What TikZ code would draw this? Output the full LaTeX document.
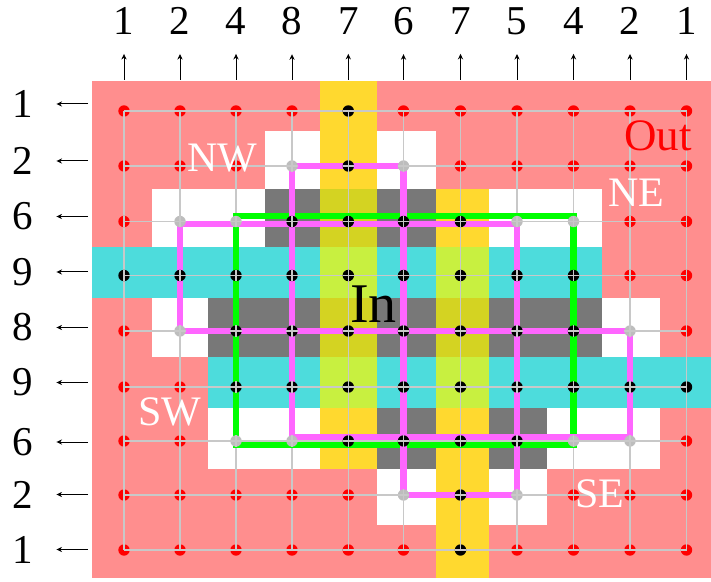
\documentclass[tikz,border=0pt]{standalone}
\usepackage{fontspec}
\setmainfont{Liberation Serif}
\definecolor{cellP}{HTML}{FF8E8E}
\definecolor{cellW}{HTML}{FFFFFF}
\definecolor{cellG}{HTML}{787878}
\definecolor{cellO}{HTML}{D4D322}
\definecolor{cellY}{HTML}{FFD92F}
\definecolor{cellC}{HTML}{4DDCDC}
\definecolor{cellL}{HTML}{C8F040}
\definecolor{dotP}{HTML}{FF0000}
\definecolor{dotW}{HTML}{BDBDBD}
\colorlet{dotG}{black}
\colorlet{dotO}{black}
\colorlet{dotY}{black}
\colorlet{dotC}{black}
\colorlet{dotL}{black}
\definecolor{gridgray}{HTML}{C8C8C8}
\definecolor{pathpink}{HTML}{FF66FF}
\definecolor{boxgreen}{HTML}{00FF00}
\usepackage{tikz}
\usetikzlibrary{arrows.meta}
\def\colx{{124,180,236,292,348.3,403.5,460.5,517,573.5,630,686.5}}
\def\rowy{{111,166,221.5,275.5,331,387,441,495,550}}
\def\cutx{{92,152,208,264.5,320,376.7,435.5,488.5,546.5,602,660,711}}
\def\cuty{{81,131,189,247.5,298.5,356.5,408,469,525,578}}
\def\liney{{104,161,216.5,272,327.5,382.5,442,494.5,549.5}}
\def\cellmap{{P,P,P,P,Y,P,P,P,P,P,P},{P,P,P,W,Y,W,P,P,P,P,P},{P,W,W,G,O,G,Y,W,W,P,P},%
  {C,C,C,C,L,C,L,C,C,P,P},{P,W,G,G,O,G,O,G,G,W,P},{P,P,C,C,L,C,L,C,C,C,C},%
  {P,P,W,W,Y,G,Y,G,W,W,P},{P,P,P,P,P,W,Y,W,P,P,P},{P,P,P,P,P,P,Y,P,P,P,P}}

\begin{document}
\begin{tikzpicture}[x=0.5pt,y=-0.5pt,
    dot/.style={circle,inner sep=0pt,minimum size=5.7pt},
    arr/.style={-{Stealth[length=2.8pt,width=2.6pt]},black,line width=0.5pt},
    lbl/.style={font=\fontsize{20.5}{20.5}\selectfont,inner sep=0pt},
    tag/.style={font=\fontsize{21}{21}\selectfont,inner sep=0pt,text=white},
    gridline/.style={gridgray,line width=0.6pt},
    band/.style={line width=3.35pt,line join=miter}]
  \useasboundingbox (0,0) rectangle (711,582);
  % cells and grid points
  \foreach \row [count=\j from 0] in \cellmap {
    \foreach \kind [count=\i from 0] in \row {
      \pgfmathsetmacro\xa{\cutx[\i]}
      \pgfmathsetmacro\xb{\cutx[\i+1]}
      \pgfmathsetmacro\ya{\cuty[\j]}
      \pgfmathsetmacro\yb{\cuty[\j+1]}
      \pgfmathsetmacro\px{\colx[\i]}
      \pgfmathsetmacro\py{\rowy[\j]}
      \fill[cell\kind] (\xa,\ya) rectangle (\xb,\yb);
      \coordinate (p-\i-\j) at (\px,\py);
    }
  }
  \foreach \j in {0,...,8} \draw[gridline] (p-0-\j) -- (p-10-\j);
  \foreach \i in {0,...,10} \draw[gridline] (p-\i-0) -- (p-\i-8);
  \draw[band,boxgreen] ([yshift=2.75pt]p-2-2) rectangle ([yshift=-2pt]p-8-6);
  \draw[band,pathpink] (p-1-4) -- ([yshift=-1.25pt]p-1-2) -- ([yshift=-1.25pt]p-7-2) -- (p-7-7)
    -- (p-5-7) -- (p-5-1) -- (p-3-1) -- ([yshift=2pt]p-3-6) -- ([yshift=2pt]p-9-6) -- (p-9-4) -- cycle;
  % dots, with the grid showing through
  \foreach \row [count=\j from 0] in \cellmap {
    \foreach \kind [count=\i from 0] in \row {
      \node[dot,fill=dot\kind] (d-\i-\j) at (p-\i-\j) {};
      \pgfmathsetmacro\hl{\i==0 ? 0 : 2.85}
      \pgfmathsetmacro\hr{\i==10 ? 0 : 2.85}
      \pgfmathsetmacro\vt{\j==0 ? 0 : 2.85}
      \pgfmathsetmacro\vb{\j==8 ? 0 : 2.85}
      \draw[gridline] ([xshift=-\hl pt]d-\i-\j.center) -- ([xshift=\hr pt]d-\i-\j.center);
      \draw[gridline] ([yshift=\vt pt]d-\i-\j.center) -- ([yshift=-\vb pt]d-\i-\j.center);
    }
  }
  % sums along the border
  \foreach \n [count=\i from 0] in {1,2,4,8,7,6,7,5,4,2,1} {
    \pgfmathsetmacro\px{\colx[\i]}
    \node[lbl] (top-\i) at (\px,21) {\n};
    \coordinate (foot-\i) at (\px,80);
    \draw[arr,shorten >=9.5pt] (foot-\i) -- (top-\i);
  }
  \foreach \n [count=\j from 0] in {1,2,6,9,8,9,6,2,1} {
    \pgfmathsetmacro\py{\liney[\j]}
    \node[lbl] (left-\j) at (23,\py) {\n};
    \coordinate (edge-\j) at (88,\py);
    \draw[arr,shorten >=11.4pt] (edge-\j) -- (left-\j);
  }
  \node[tag] (nw) at (222,158) {NW};
  \node[tag] (ne) at (636,193) {NE};
  \node[tag] (sw) at (170,412) {SW};
  \node[tag] (se) at (600,494) {SE};
  \node[font=\fontsize{22.5}{22.5}\selectfont,inner sep=0pt,text=red] (out) at (658,136) {Out};
  \node[font=\fontsize{28}{28}\selectfont,inner sep=0pt] (in) at (373.5,304) {In};
\end{tikzpicture}
\end{document}
